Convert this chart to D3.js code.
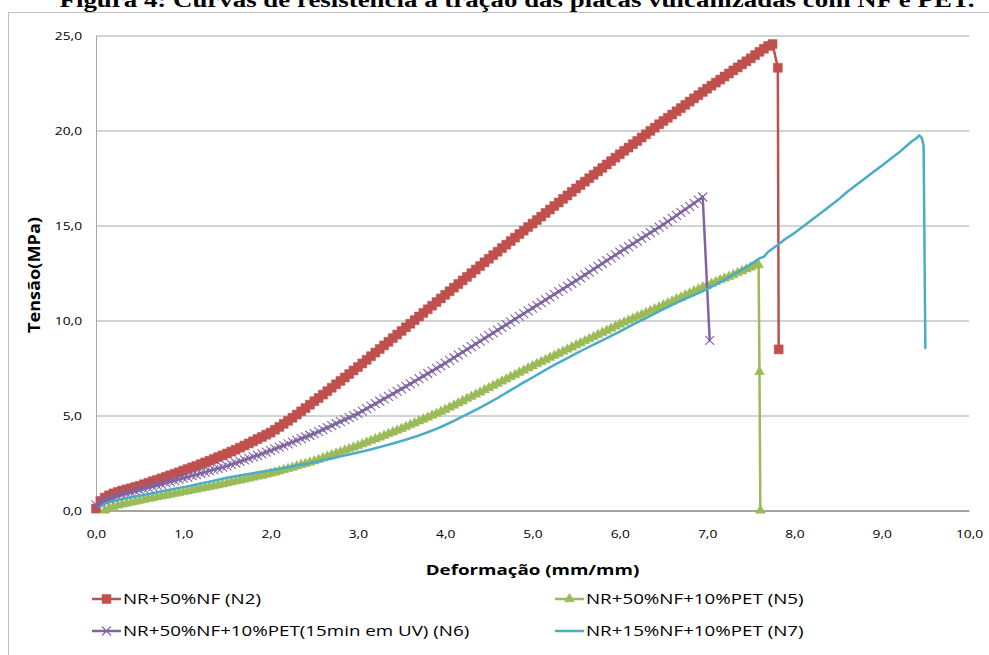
<!DOCTYPE html>
<html>
<head>
<meta charset="utf-8">
<script src="https://cdn.jsdelivr.net/npm/d3@7"></script>
<style>
  body { margin: 0; background: #fff; }
  svg { display: block; }
</style>
</head>
<body>
<svg id="chart" width="989" height="655"></svg>
<script>
// ---- chart data ----
const titleText = "Figura 4: Curvas de resistência à tração das placas vulcanizadas com NF e PET.";
const xLabel = "Deformação (mm/mm)";
const yLabel = "Tensão(MPa)";
const xTickValues = [0, 1, 2, 3, 4, 5, 6, 7, 8, 9, 10];
const yTickValues = [0, 5, 10, 15, 20, 25];
const seriesLabels = [
  "NR+50%NF (N2)",
  "NR+50%NF+10%PET (N5)",
  "NR+50%NF+10%PET(15min em UV) (N6)",
  "NR+15%NF+10%PET (N7)"
];
const seriesColors = ["#C0504D", "#9BBB59", "#8064A2", "#4BACC6"];
const seriesMarkers = ["square", "triangle", "cross", "none"];

// strain (mm/mm), stress (MPa)
const n2 = [
  [0.00,0.10],[0.05,0.50],[0.10,0.68],[0.15,0.80],[0.20,0.90],[0.25,0.98],[0.30,1.05],[0.35,1.11],
  [0.40,1.17],[0.45,1.24],[0.50,1.30],[0.55,1.38],[0.60,1.46],[0.65,1.54],[0.70,1.61],[0.75,1.69],
  [0.80,1.77],[0.85,1.85],[0.90,1.93],[0.95,2.01],[1.00,2.10],[1.05,2.18],[1.10,2.27],[1.15,2.35],
  [1.20,2.44],[1.25,2.53],[1.30,2.62],[1.35,2.71],[1.40,2.81],[1.45,2.90],[1.50,3.00],[1.55,3.10],
  [1.60,3.20],[1.65,3.31],[1.70,3.42],[1.75,3.53],[1.80,3.64],[1.85,3.76],[1.90,3.87],[1.95,3.99],
  [2.00,4.10],[2.05,4.25],[2.10,4.40],[2.15,4.56],[2.20,4.72],[2.25,4.88],[2.30,5.05],[2.35,5.22],
  [2.40,5.39],[2.45,5.57],[2.50,5.75],[2.55,5.92],[2.60,6.10],[2.65,6.28],[2.70,6.46],[2.75,6.64],
  [2.80,6.82],[2.85,7.00],[2.90,7.18],[2.95,7.37],[3.00,7.55],[3.05,7.74],[3.10,7.93],[3.15,8.12],
  [3.20,8.31],[3.25,8.50],[3.30,8.69],[3.35,8.88],[3.40,9.07],[3.45,9.26],[3.50,9.45],[3.55,9.64],
  [3.60,9.83],[3.65,10.02],[3.70,10.21],[3.75,10.40],[3.80,10.59],[3.85,10.78],[3.90,10.97],[3.95,11.16],
  [4.00,11.35],[4.05,11.54],[4.10,11.73],[4.15,11.92],[4.20,12.11],[4.25,12.30],[4.30,12.49],[4.35,12.68],
  [4.40,12.87],[4.45,13.06],[4.50,13.25],[4.55,13.44],[4.60,13.62],[4.65,13.81],[4.70,13.99],[4.75,14.18],
  [4.80,14.36],[4.85,14.55],[4.90,14.73],[4.95,14.92],[5.00,15.10],[5.05,15.29],[5.10,15.47],[5.15,15.66],
  [5.20,15.84],[5.25,16.03],[5.30,16.21],[5.35,16.40],[5.40,16.58],[5.45,16.77],[5.50,16.95],[5.55,17.13],
  [5.60,17.31],[5.65,17.49],[5.70,17.67],[5.75,17.85],[5.80,18.03],[5.85,18.21],[5.90,18.39],[5.95,18.57],
  [6.00,18.75],[6.05,18.93],[6.10,19.10],[6.15,19.28],[6.20,19.45],[6.25,19.63],[6.30,19.80],[6.35,19.98],
  [6.40,20.15],[6.45,20.33],[6.50,20.50],[6.55,20.67],[6.60,20.84],[6.65,21.01],[6.70,21.18],[6.75,21.35],
  [6.80,21.52],[6.85,21.69],[6.90,21.86],[6.95,22.03],[7.00,22.20],[7.05,22.36],[7.10,22.52],[7.15,22.68],
  [7.20,22.84],[7.25,23.00],[7.30,23.16],[7.35,23.32],[7.40,23.48],[7.45,23.64],[7.50,23.80],[7.55,23.97],
  [7.60,24.14],[7.65,24.30],[7.70,24.45],[7.75,24.55],[7.81,23.30],[7.82,8.48]
];
const n5 = [
  [0.10,0.00],[0.15,0.12],[0.20,0.20],[0.25,0.27],[0.30,0.32],[0.35,0.37],[0.40,0.42],[0.45,0.47],
  [0.50,0.52],[0.55,0.57],[0.60,0.62],[0.65,0.66],[0.70,0.71],[0.75,0.75],[0.80,0.80],[0.85,0.84],
  [0.90,0.89],[0.95,0.93],[1.00,0.98],[1.05,1.02],[1.10,1.07],[1.15,1.11],[1.20,1.16],[1.25,1.20],
  [1.30,1.25],[1.35,1.29],[1.40,1.34],[1.45,1.39],[1.50,1.44],[1.55,1.49],[1.60,1.54],[1.65,1.59],
  [1.70,1.64],[1.75,1.69],[1.80,1.74],[1.85,1.79],[1.90,1.84],[1.95,1.89],[2.00,1.95],[2.05,2.01],
  [2.10,2.07],[2.15,2.13],[2.20,2.20],[2.25,2.26],[2.30,2.33],[2.35,2.40],[2.40,2.46],[2.45,2.53],
  [2.50,2.60],[2.55,2.68],[2.60,2.76],[2.65,2.84],[2.70,2.92],[2.75,3.00],[2.80,3.08],[2.85,3.16],
  [2.90,3.24],[2.95,3.32],[3.00,3.40],[3.05,3.49],[3.10,3.58],[3.15,3.67],[3.20,3.76],[3.25,3.85],
  [3.30,3.94],[3.35,4.03],[3.40,4.12],[3.45,4.21],[3.50,4.30],[3.55,4.40],[3.60,4.50],[3.65,4.60],
  [3.70,4.70],[3.75,4.80],[3.80,4.90],[3.85,5.00],[3.90,5.10],[3.95,5.20],[4.00,5.30],[4.05,5.42],
  [4.10,5.53],[4.15,5.65],[4.20,5.76],[4.25,5.88],[4.30,5.99],[4.35,6.11],[4.40,6.22],[4.45,6.34],
  [4.50,6.45],[4.55,6.57],[4.60,6.68],[4.65,6.80],[4.70,6.91],[4.75,7.03],[4.80,7.14],[4.85,7.26],
  [4.90,7.37],[4.95,7.49],[5.00,7.60],[5.05,7.71],[5.10,7.82],[5.15,7.93],[5.20,8.04],[5.25,8.15],
  [5.30,8.26],[5.35,8.37],[5.40,8.48],[5.45,8.59],[5.50,8.70],[5.55,8.81],[5.60,8.92],[5.65,9.03],
  [5.70,9.14],[5.75,9.25],[5.80,9.36],[5.85,9.47],[5.90,9.58],[5.95,9.69],[6.00,9.80],[6.05,9.90],
  [6.10,10.00],[6.15,10.10],[6.20,10.20],[6.25,10.30],[6.30,10.40],[6.35,10.50],[6.40,10.60],[6.45,10.70],
  [6.50,10.80],[6.55,10.91],[6.60,11.01],[6.65,11.12],[6.70,11.22],[6.75,11.33],[6.80,11.43],[6.85,11.54],
  [6.90,11.64],[6.95,11.75],[7.00,11.85],[7.05,11.94],[7.10,12.03],[7.15,12.13],[7.20,12.22],[7.25,12.31],
  [7.30,12.40],[7.35,12.50],[7.40,12.60],[7.45,12.70],[7.50,12.80],[7.55,12.90],[7.59,12.92],[7.60,7.30],
  [7.61,0.00]
];
const n6 = [
  [0.00,0.30],[0.05,0.45],[0.10,0.55],[0.15,0.63],[0.20,0.70],[0.25,0.77],[0.30,0.83],[0.35,0.89],
  [0.40,0.95],[0.45,1.02],[0.50,1.08],[0.55,1.14],[0.60,1.20],[0.65,1.26],[0.70,1.32],[0.75,1.38],
  [0.80,1.45],[0.85,1.51],[0.90,1.57],[0.95,1.64],[1.00,1.70],[1.05,1.76],[1.10,1.83],[1.15,1.89],
  [1.20,1.96],[1.25,2.02],[1.30,2.09],[1.35,2.15],[1.40,2.22],[1.45,2.28],[1.50,2.35],[1.55,2.43],
  [1.60,2.50],[1.65,2.58],[1.70,2.66],[1.75,2.74],[1.80,2.82],[1.85,2.90],[1.90,2.98],[1.95,3.07],
  [2.00,3.15],[2.05,3.24],[2.10,3.33],[2.15,3.42],[2.20,3.51],[2.25,3.60],[2.30,3.69],[2.35,3.78],
  [2.40,3.87],[2.45,3.96],[2.50,4.05],[2.55,4.15],[2.60,4.26],[2.65,4.36],[2.70,4.47],[2.75,4.57],
  [2.80,4.68],[2.85,4.78],[2.90,4.89],[2.95,4.99],[3.00,5.10],[3.05,5.23],[3.10,5.36],[3.15,5.49],
  [3.20,5.62],[3.25,5.75],[3.30,5.88],[3.35,6.01],[3.40,6.14],[3.45,6.27],[3.50,6.40],[3.55,6.53],
  [3.60,6.67],[3.65,6.80],[3.70,6.94],[3.75,7.07],[3.80,7.21],[3.85,7.34],[3.90,7.48],[3.95,7.61],
  [4.00,7.75],[4.05,7.90],[4.10,8.04],[4.15,8.19],[4.20,8.33],[4.25,8.48],[4.30,8.62],[4.35,8.77],
  [4.40,8.91],[4.45,9.06],[4.50,9.20],[4.55,9.35],[4.60,9.49],[4.65,9.64],[4.70,9.78],[4.75,9.93],
  [4.80,10.07],[4.85,10.22],[4.90,10.36],[4.95,10.51],[5.00,10.65],[5.05,10.80],[5.10,10.94],[5.15,11.09],
  [5.20,11.23],[5.25,11.38],[5.30,11.52],[5.35,11.67],[5.40,11.81],[5.45,11.96],[5.50,12.10],[5.55,12.25],
  [5.60,12.40],[5.65,12.55],[5.70,12.70],[5.75,12.85],[5.80,13.00],[5.85,13.15],[5.90,13.30],[5.95,13.45],
  [6.00,13.60],[6.05,13.75],[6.10,13.89],[6.15,14.04],[6.20,14.18],[6.25,14.33],[6.30,14.47],[6.35,14.62],
  [6.40,14.76],[6.45,14.91],[6.50,15.05],[6.55,15.21],[6.60,15.37],[6.65,15.53],[6.70,15.69],[6.75,15.85],
  [6.80,16.01],[6.85,16.17],[6.90,16.33],[6.95,16.50],[7.03,8.95]
];
const n7 = [
  [0.05,0.20],[0.10,0.35],[0.20,0.50],[0.30,0.60],[0.40,0.70],[0.50,0.78],[0.60,0.87],[0.70,0.96],
  [0.80,1.05],[0.90,1.14],[1.00,1.23],[1.10,1.32],[1.20,1.42],[1.30,1.52],[1.40,1.62],[1.50,1.72],
  [1.60,1.80],[1.70,1.88],[1.80,1.96],[1.90,2.04],[2.00,2.12],[2.10,2.20],[2.20,2.28],[2.30,2.37],
  [2.40,2.45],[2.50,2.54],[2.60,2.64],[2.70,2.74],[2.80,2.85],[2.90,2.95],[3.00,3.05],[3.10,3.16],
  [3.20,3.28],[3.30,3.40],[3.40,3.53],[3.50,3.66],[3.60,3.80],[3.70,3.95],[3.80,4.12],[3.90,4.30],
  [4.00,4.50],[4.10,4.72],[4.20,4.95],[4.30,5.18],[4.40,5.42],[4.50,5.66],[4.60,5.92],[4.70,6.20],
  [4.80,6.47],[4.90,6.74],[5.00,7.00],[5.10,7.27],[5.20,7.53],[5.30,7.78],[5.40,8.02],[5.50,8.27],
  [5.60,8.50],[5.70,8.73],[5.80,8.96],[5.90,9.19],[6.00,9.42],[6.10,9.66],[6.20,9.90],[6.30,10.13],
  [6.40,10.36],[6.50,10.60],[6.60,10.82],[6.70,11.04],[6.80,11.24],[6.90,11.44],[7.00,11.65],[7.10,11.90],
  [7.20,12.15],[7.30,12.42],[7.40,12.68],[7.50,12.95],[7.60,13.28],[7.65,13.35],[7.70,13.62],[7.80,13.95],
  [7.90,14.30],[8.00,14.60],[8.10,14.95],[8.20,15.30],[8.30,15.65],[8.40,16.00],[8.50,16.35],[8.60,16.75],
  [8.70,17.10],[8.80,17.45],[8.90,17.80],[9.00,18.15],[9.10,18.50],[9.20,18.85],[9.30,19.25],[9.35,19.45],
  [9.40,19.60],[9.43,19.75],[9.46,19.60],[9.48,19.20],[9.49,14.00],[9.50,8.55]
];
const seriesData = [n2, n5, n6, n7];

// ---- layout ----
const svg = d3.select("#chart");
const plot = { left: 96, right: 969, top: 35.5, bottom: 510.5 };
const sansFont = "'Open Sans', 'Noto Sans', sans-serif";
const stretchX = 1.25;

const x = d3.scaleLinear().domain([0, 10]).range([plot.left, plot.right]);
const y = d3.scaleLinear().domain([0, 25]).range([plot.bottom, plot.top]);
const fmt = d3.formatLocale({ decimal: ",", thousands: ".", grouping: [3], currency: ["", ""] }).format(".1f");

// widen a text element horizontally by a fixed factor, keeping its anchor
function stretch(sel, factor) {
  sel.each(function () {
    const w = this.getComputedTextLength();
    d3.select(this).attr("textLength", w * factor).attr("lengthAdjust", "spacingAndGlyphs");
  });
}

// outer frame
svg.append("rect")
  .attr("x", 8.5).attr("y", 12.5).attr("width", 1000).attr("height", 700)
  .attr("fill", "none").attr("stroke", "#BFBFBF").attr("stroke-width", 1);

// caption above the frame
const title = svg.append("text")
  .attr("x", 517).attr("y", 7)
  .attr("text-anchor", "middle")
  .attr("font-family", "'Liberation Serif', 'Times New Roman', serif")
  .attr("font-weight", "bold")
  .attr("font-size", 20)
  .attr("fill", "#000")
  .text(titleText);
title.attr("textLength", 915).attr("lengthAdjust", "spacingAndGlyphs");

// horizontal gridlines
svg.append("g")
  .attr("transform", `translate(${plot.left},0)`)
  .call(d3.axisLeft(y).tickValues(yTickValues.filter(v => v > 0)).tickSize(-(plot.right - plot.left)).tickFormat(""))
  .call(g => g.select(".domain").remove())
  .call(g => g.selectAll("line").attr("stroke", "#A6A6A6").attr("stroke-width", 1));

// y axis
const yAxis = svg.append("g")
  .attr("transform", `translate(${plot.left},0)`)
  .call(d3.axisLeft(y).tickValues(yTickValues).tickSize(0).tickPadding(14).tickFormat(fmt));
yAxis.select(".domain").attr("stroke", "#A6A6A6").attr("stroke-width", 1);
yAxis.selectAll("text").attr("font-family", sansFont).attr("font-size", 11).attr("fill", "#000");
stretch(yAxis.selectAll("text"), stretchX);

// x axis
const xAxis = svg.append("g")
  .attr("transform", `translate(0,${plot.bottom})`)
  .call(d3.axisBottom(x).tickValues(xTickValues).tickSize(0).tickPadding(20).tickFormat(fmt));
xAxis.select(".domain").attr("stroke", "#868686").attr("stroke-width", 1.5);
xAxis.selectAll("text").attr("font-family", sansFont).attr("font-size", 11).attr("fill", "#000");
stretch(xAxis.selectAll("text"), stretchX);

// axis titles
const xt = svg.append("text")
  .attr("x", (plot.left + plot.right) / 2).attr("y", 575)
  .attr("text-anchor", "middle")
  .attr("font-family", sansFont).attr("font-weight", "bold").attr("font-size", 15)
  .text(xLabel);
stretch(xt, stretchX);

svg.append("text")
  .attr("transform", "translate(40,275) rotate(-90)")
  .attr("text-anchor", "middle")
  .attr("font-family", sansFont).attr("font-weight", "bold").attr("font-size", 16)
  .attr("textLength", 116).attr("lengthAdjust", "spacingAndGlyphs")
  .text(yLabel);

// marker shapes
function drawMarker(g, kind, color) {
  if (kind === "square") {
    g.append("path").attr("d", d3.symbol(d3.symbolSquare, 81)())
      .attr("fill", color).attr("stroke", color).attr("stroke-width", 0.5);
  } else if (kind === "triangle") {
    g.append("path").attr("d", d3.symbol(d3.symbolTriangle, 42)())
      .attr("fill", color).attr("stroke", color).attr("stroke-width", 0.5);
  } else if (kind === "cross") {
    g.append("path").attr("d", "M-4.5,-4.5L4.5,4.5M-4.5,4.5L4.5,-4.5")
      .attr("fill", "none").attr("stroke", color).attr("stroke-width", 1.1);
  }
}

// series: line first, markers on top, in legend order
const line = d3.line().x(d => x(d[0])).y(d => y(d[1]));
seriesData.forEach((data, i) => {
  const g = svg.append("g").attr("class", "series");
  g.append("path")
    .attr("d", line(data))
    .attr("fill", "none")
    .attr("stroke", seriesColors[i])
    .attr("stroke-width", 2.5)
    .attr("stroke-linejoin", "round")
    .attr("stroke-linecap", "round");
  if (seriesMarkers[i] !== "none") {
    g.selectAll("g.pt").data(data).join("g")
      .attr("class", "pt")
      .attr("transform", d => `translate(${x(d[0])},${y(d[1])})`)
      .each(function () { drawMarker(d3.select(this), seriesMarkers[i], seriesColors[i]); });
  }
});

// legend: two columns, row-major
const legendCols = [92, 555];
const legendRows = [599, 631];
seriesLabels.forEach((label, i) => {
  const lx = legendCols[i % 2];
  const ly = legendRows[Math.floor(i / 2)];
  const g = svg.append("g").attr("transform", `translate(${lx},${ly})`);
  g.append("line").attr("x1", 0).attr("x2", 29).attr("y1", 0).attr("y2", 0)
    .attr("stroke", seriesColors[i]).attr("stroke-width", 2.5);
  const m = g.append("g").attr("transform", "translate(14.5,0)");
  drawMarker(m, seriesMarkers[i], seriesColors[i]);
  const t = g.append("text")
    .attr("x", 31).attr("y", 0).attr("dy", "0.35em")
    .attr("font-family", sansFont).attr("font-size", 15).attr("fill", "#000")
    .text(label);
  stretch(t, stretchX);
});
</script>
</body>
</html>
